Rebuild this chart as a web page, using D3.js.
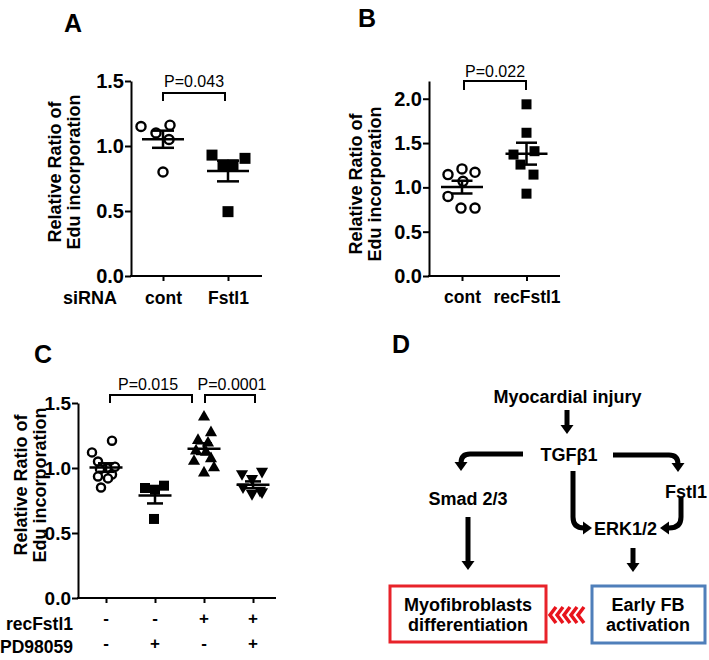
<!DOCTYPE html>
<html><head><meta charset="utf-8">
<script src="https://cdn.jsdelivr.net/npm/d3@7"></script>
<style>body{margin:0;background:#fff}svg{display:block}</style>
</head><body><svg id="c" width="709" height="660"></svg>
<script>
// ---------- DATA ----------
const aCategories = ["cont", "Fstl1"];
const aCont  = [1.15, 1.10, 1.16, 1.05, 0.80];
const aFstl1 = [0.93, 0.905, 0.854, 0.854, 0.495];
const aTicks = [0, 0.5, 1.0, 1.5];
const aPValue = "P=0.043";

const bCategories = ["cont", "recFstl1"];
const bCont     = [1.144, 1.208, 1.170, 0.898, 1.068, 0.766, 0.766];
const bRecFstl1 = [1.937, 1.616, 1.370, 1.408, 1.257, 1.144, 0.929];
const bTicks = [0, 0.5, 1.0, 1.5, 2.0];
const bPValue = "P=0.022";

const cCategories = ["g1", "g2", "g3", "g4"];
const cRecFstl1Row = ["-", "-", "+", "+"];
const cPD98059Row  = ["-", "+", "-", "+"];
const cControl   = [1.21, 1.12, 1.05, 1.01, 1.00, 0.99, 0.95, 0.935, 0.92, 0.85];
const cPD98059   = [0.846, 0.864, 0.833, 0.608];
const cRecFstl1  = [1.40, 1.28, 1.22, 1.20, 1.14, 1.13, 1.06, 1.08, 1.01, 0.97];
const cRecPD     = [0.948, 0.966, 0.91, 0.846, 0.82, 0.795, 0.808];
const cTicks = [0, 0.5, 1.0, 1.5];
const cPValues = ["P=0.015", "P=0.0001"];

const yTitle = ["Relative Ratio of", "Edu incorporation"];
const dNodes = ["Myocardial injury", "TGFβ1", "Smad 2/3", "Fstl1", "ERK1/2"];
const dBoxes = [["Myofibroblasts", "differentiation"], ["Early FB", "activation"]];

// ---------- LAYOUT (horizontal scatter offsets, px) ----------
const jitA = [[-22, -7, 7, 6, 0], [-16, 17, -5, 5, 0]];
const jitB = [[-14, 0, 13, -14, 1, -1, 13], [0, 0, -13, 8, -6, 7, 0]];
const jitC = [[6, -14, -8, 9, 1, -6, 6, -8, 2, -5], [-10, 9, 0, -1],
              [0, 7, -6, 4, -8, 2, -10, 7, 10, 0], [-11, 9, -1, -10, 7, -1, 9]];

const FONT = '"Liberation Sans", Arial, Helvetica, sans-serif';
const svg = d3.select("#c");

function sym(type, s) {
  if (type === "square") return `M${-s/2},${-s/2}h${s}v${s}h${-s}z`;
  if (type === "tri") return `M0,${-s*0.55}L${s*0.55},${s*0.42}L${-s*0.55},${s*0.42}z`;
  if (type === "triDown") return `M0,${s*0.55}L${s*0.55},${-s*0.42}L${-s*0.55},${-s*0.42}z`;
  return null;
}

function drawPanel(p) {
  const g = svg.append("g");
  const y = d3.scaleLinear().domain(p.yDomain).range([p.yBottom, p.yTop]);
  const x = d3.scalePoint().domain(p.cats).range(p.xRange);

  const ya = g.append("g").attr("transform", `translate(${p.axisX0},0)`)
    .call(d3.axisLeft(y).tickValues(p.ticks).tickFormat(d3.format(".1f"))
      .tickSize(6).tickSizeOuter(0).tickPadding(1));
  ya.select(".domain").attr("stroke-width", 2).attr("stroke", "#000");
  ya.selectAll(".tick line").attr("stroke-width", 2).attr("stroke", "#000");
  ya.selectAll(".tick text").attr("font-size", p.tickFont).attr("font-weight", "bold")
    .attr("font-family", FONT).attr("fill", "#000");

  const xa = g.append("g").attr("transform", `translate(0,${p.yBottom})`)
    .call(d3.axisBottom(x).tickSize(5).tickSizeOuter(0).tickPadding(p.xPad || 10)
      .tickFormat(p.xLabels ? (d, i) => p.xLabels[i] : () => ""));
  xa.select(".domain").remove();
  xa.selectAll(".tick line").attr("stroke-width", 2).attr("stroke", "#000");
  xa.selectAll(".tick text").attr("font-size", 17.5).attr("font-weight", "bold")
    .attr("font-family", FONT).attr("fill", "#000");
  g.append("line").attr("x1", p.axisX0 - 1).attr("x2", p.axisX1)
    .attr("y1", p.yBottom).attr("y2", p.yBottom).attr("stroke", "#000").attr("stroke-width", 2);

  // y title (two lines)
  const t = g.append("text").attr("transform", `translate(${p.titleX},${p.titleY}) rotate(-90)`)
    .attr("text-anchor", "middle").attr("font-family", FONT).attr("font-weight", "bold")
    .attr("font-size", 18).attr("fill", "#000");
  yTitle.forEach((s, i) => t.append("tspan").attr("x", 0).attr("dy", i === 0 ? 0 : 19).text(s));

  // points + mean/SEM
  p.series.forEach((s, si) => {
    const cx = x(p.cats[si]);
    const pts = g.append("g");
    s.values.forEach((v, i) => {
      const px = cx + s.jitter[i], py = y(v);
      if (s.shape === "circle") {
        pts.append("circle").attr("cx", px).attr("cy", py).attr("r", s.size / 2 - 1.2)
          .attr("fill", "#fff").attr("stroke", "#000").attr("stroke-width", 2.4);
      } else {
        pts.append("path").attr("d", sym(s.shape, s.size)).attr("transform", `translate(${px},${py})`)
          .attr("fill", "#000");
      }
    });
    const m = d3.mean(s.values);
    const sem = d3.deviation(s.values) / Math.sqrt(s.values.length);
    const L = pts.append("g").attr("stroke", "#000").attr("stroke-width", 2.5);
    L.append("line").attr("x1", cx - p.meanW / 2).attr("x2", cx + p.meanW / 2).attr("y1", y(m)).attr("y2", y(m));
    L.append("line").attr("x1", cx).attr("x2", cx).attr("y1", y(m - sem)).attr("y2", y(m + sem));
    [m - sem, m + sem].forEach(v => L.append("line").attr("x1", cx - p.semW / 2).attr("x2", cx + p.semW / 2)
      .attr("y1", y(v)).attr("y2", y(v)));
  });

  // brackets
  p.brackets.forEach(b => {
    g.append("path").attr("d", `M${b.x1},${b.yb}V${b.yt}H${b.x2}V${b.yb}`)
      .attr("fill", "none").attr("stroke", "#000").attr("stroke-width", 2);
    g.append("text").attr("x", b.tx).attr("y", b.ty).attr("text-anchor", "middle")
      .attr("font-family", FONT).attr("font-size", 16).attr("fill", "#000").text(b.label);
  });

  // panel letter
  g.append("text").attr("x", p.letterX).attr("y", p.letterY).attr("font-family", FONT)
    .attr("font-weight", "bold").attr("font-size", 25).attr("fill", "#000").text(p.letter);
  return {g, x, y};
}

// ---------- Panel A ----------
const A = drawPanel({
  letter: "A", letterX: 64, letterY: 32,
  cats: aCategories, xLabels: aCategories, xRange: [163, 228], axisX0: 131, axisX1: 262, xPad: 11,
  yDomain: [0, 1.5], yBottom: 276, yTop: 81, ticks: aTicks, tickFont: 20,
  titleX: 61, titleY: 172, meanW: 42, semW: 22,
  series: [
    {values: aCont, jitter: jitA[0], shape: "circle", size: 11.5},
    {values: aFstl1, jitter: jitA[1], shape: "square", size: 11}
  ],
  brackets: [{x1: 163, x2: 225, yt: 93, yb: 101, tx: 194, ty: 87, label: aPValue}]
});
A.g.append("text").attr("x", 90).attr("y", 304).attr("text-anchor", "middle").attr("font-family", FONT)
  .attr("font-weight", "bold").attr("font-size", 18).text("siRNA");

// ---------- Panel B ----------
drawPanel({
  letter: "B", letterX: 358, letterY: 27,
  cats: bCategories, xLabels: bCategories, xRange: [462, 526.5], axisX0: 429, axisX1: 560, xPad: 10,
  yDomain: [0, 2.2], yBottom: 276, yTop: 81, ticks: bTicks, tickFont: 20,
  titleX: 362, titleY: 184, meanW: 42, semW: 21,
  series: [
    {values: bCont, jitter: jitB[0], shape: "circle", size: 11.5},
    {values: bRecFstl1, jitter: jitB[1], shape: "square", size: 10}
  ],
  brackets: [{x1: 464, x2: 526, yt: 81, yb: 90, tx: 495, ty: 77, label: bPValue}]
});

// ---------- Panel C ----------
const C = drawPanel({
  letter: "C", letterX: 34, letterY: 363,
  cats: cCategories, xLabels: null, xRange: [106, 253], axisX0: 78, axisX1: 276,
  yDomain: [0, 1.5], yBottom: 598, yTop: 403, ticks: cTicks, tickFont: 19,
  titleX: 27, titleY: 485, meanW: 33, semW: 16,
  series: [
    {values: cControl, jitter: jitC[0], shape: "circle", size: 10.5},
    {values: cPD98059, jitter: jitC[1], shape: "square", size: 10},
    {values: cRecFstl1, jitter: jitC[2], shape: "tri", size: 11},
    {values: cRecPD, jitter: jitC[3], shape: "triDown", size: 11}
  ],
  brackets: [
    {x1: 110, x2: 192, yt: 395, yb: 403, tx: 148, ty: 390, label: cPValues[0]},
    {x1: 205, x2: 255, yt: 395, yb: 403, tx: 232, ty: 390, label: cPValues[1]}
  ]
});
[["recFstl1", cRecFstl1Row, 630, 618], ["PD98059", cPD98059Row, 653, 643]].forEach(([lab, row, by, sy]) => {
  C.g.append("text").attr("x", 73).attr("y", by).attr("text-anchor", "end").attr("font-family", FONT)
    .attr("font-weight", "bold").attr("font-size", 17.5).text(lab);
  row.forEach((s, i) => C.g.append("text").attr("x", C.x(cCategories[i])).attr("y", sy)
    .attr("text-anchor", "middle").attr("dominant-baseline", "central").attr("font-family", FONT)
    .attr("font-weight", "bold").attr("font-size", 17).text(s));
});

// ---------- Panel D ----------
const D = svg.append("g").attr("font-family", FONT).attr("font-weight", "bold");
D.append("text").attr("x", 392).attr("y", 353).attr("font-size", 25).text("D");
const nodePos = [[567.5, 397], [569, 455], [468, 499], [686, 492], [625.5, 529]];
dNodes.forEach((s, i) => D.append("text").attr("x", nodePos[i][0]).attr("y", nodePos[i][1])
  .attr("text-anchor", "middle").attr("dominant-baseline", "central").attr("font-size", 18).text(s));

function head(tx, ty, dir) {
  const w = 6.5, l = 9;
  const pts = {
    down: [[tx, ty], [tx - w, ty - l], [tx + w, ty - l]],
    right: [[tx, ty], [tx - l, ty - w], [tx - l, ty + w]],
    left: [[tx, ty], [tx + l, ty - w], [tx + l, ty + w]]
  }[dir];
  D.append("path").attr("d", "M" + pts.join("L") + "Z").attr("fill", "#000");
}
const arrows = [
  ["M567,410V426", 567, 434, "down"],
  ["M523,454H470Q461,454 461,463V463", 461, 471, "down"],
  ["M613,455H669Q678,455 678,464", 678, 472, "down"],
  ["M573,471V517Q573,528 584,528", 592, 528, "right"],
  ["M681,497V517Q681,528 669,528", 660, 528, "left"],
  ["M468,517V562", 468, 570, "down"],
  ["M633,548V564", 633, 572, "down"]
];
arrows.forEach(([d, tx, ty, dir]) => {
  D.append("path").attr("d", d).attr("fill", "none").attr("stroke", "#000").attr("stroke-width", 5);
  head(tx, ty, dir);
});

const boxes = [
  {x: 390, y: 586, w: 156, h: 56, color: "#e8232a", cx: 468},
  {x: 592, y: 586, w: 113, h: 57, color: "#4f7fba", cx: 648}
];
boxes.forEach((b, i) => {
  D.append("rect").attr("x", b.x).attr("y", b.y).attr("width", b.w).attr("height", b.h)
    .attr("fill", "#fff").attr("stroke", b.color).attr("stroke-width", 3);
  dBoxes[i].forEach((s, j) => D.append("text").attr("x", b.cx).attr("y", 605 + j * 20)
    .attr("text-anchor", "middle").attr("dominant-baseline", "central").attr("font-size", 18).text(s));
});
// red chevrons
d3.range(5).forEach(k => {
  const x0 = 550 + k * 7;
  D.append("path").attr("d", `M${x0 + 6},${607}L${x0},${615}L${x0 + 6},${623}`)
    .attr("fill", "none").attr("stroke", "#e8141c").attr("stroke-width", 3.5);
});
</script></body></html>
